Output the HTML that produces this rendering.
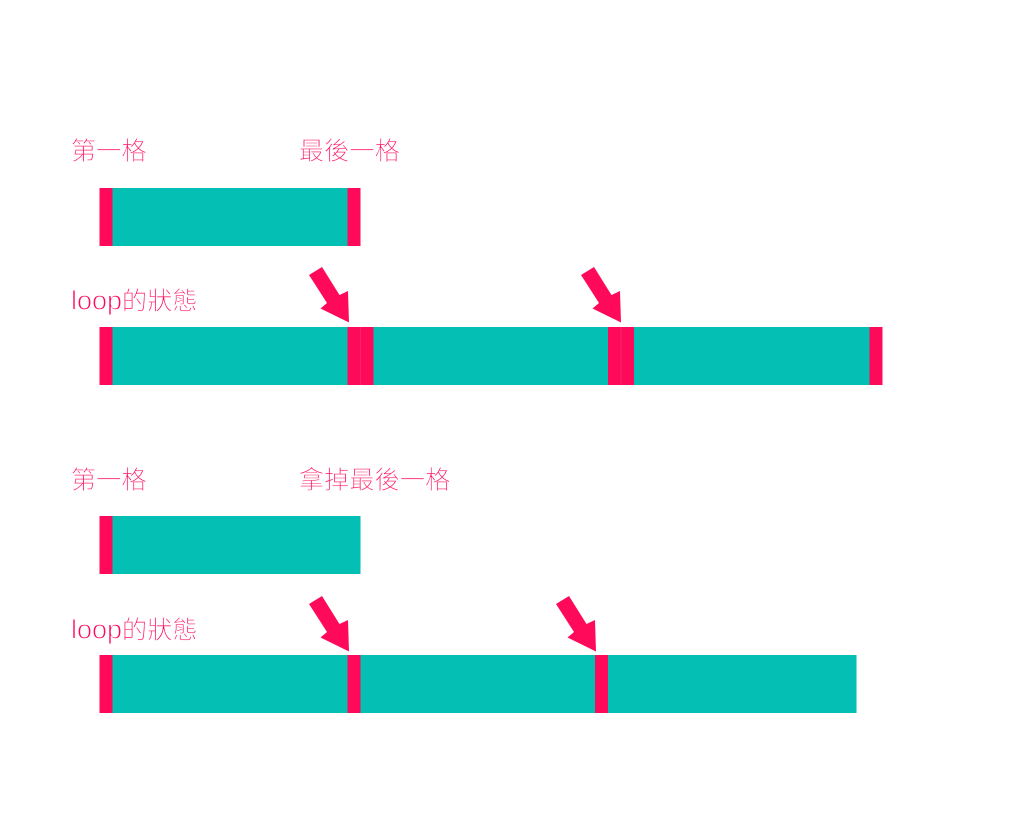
<!DOCTYPE html>
<html>
<head>
<meta charset="utf-8">
<style>
html,body{margin:0;padding:0;background:#fff;width:1024px;height:814px;overflow:hidden}
svg{display:block}
text{font-family:"Liberation Sans","Noto Sans CJK TC",sans-serif;font-size:25px;font-weight:300;fill:#ff0a5a;stroke:#fff;stroke-width:.4px;letter-spacing:.25px}
tspan.l{font-size:27px;stroke-width:.9px;letter-spacing:0}
</style>
</head>
<body>
<svg width="1024" height="814" viewBox="0 0 1024 814" xmlns="http://www.w3.org/2000/svg">
<rect width="1024" height="814" fill="#fff"/>

<text x="71" y="159.5">第一格</text>
<text x="299" y="159.5">最後一格</text>

<rect x="99.5" y="188" width="261" height="58" fill="#03bfb4"/>
<rect x="99.5" y="188" width="13" height="58" fill="#ff0a5a"/>
<rect x="347.5" y="188" width="13" height="58" fill="#ff0a5a"/>

<text x="71" y="309.5"><tspan class="l">loop</tspan><tspan x="122">的狀態</tspan></text>

<rect x="99.5" y="327" width="783" height="58" fill="#03bfb4"/>
<rect x="99.5" y="327" width="13" height="58" fill="#ff0a5a"/>
<rect x="347.5" y="327" width="26" height="58" fill="#ff0a5a"/>
<rect x="360" y="327" width="1" height="58" fill="#f02a68"/>
<rect x="608" y="327" width="26" height="58" fill="#ff0a5a"/>
<rect x="620.5" y="327" width="1" height="58" fill="#f02a68"/>
<rect x="869.5" y="327" width="13" height="58" fill="#ff0a5a"/>

<polygon points="309,275 322,267 339.5,295 348,291 349,322.5 320.5,308.5 327,303" fill="#ff0a5a"/>
<polygon points="581,275 594,267 611.5,295 620,291 621,322.5 592.5,308.5 599,303" fill="#ff0a5a"/>

<text x="71" y="488.5">第一格</text>
<text x="299" y="488.5">拿掉最後一格</text>

<rect x="99.5" y="516" width="261" height="58" fill="#03bfb4"/>
<rect x="99.5" y="516" width="13" height="58" fill="#ff0a5a"/>

<text x="71" y="638.5"><tspan class="l">loop</tspan><tspan x="122">的狀態</tspan></text>

<rect x="99.5" y="655" width="757" height="58" fill="#03bfb4"/>
<rect x="99.5" y="655" width="13" height="58" fill="#ff0a5a"/>
<rect x="347.5" y="655" width="13" height="58" fill="#ff0a5a"/>
<rect x="595" y="655" width="13" height="58" fill="#ff0a5a"/>

<polygon points="309,604 322,596 339.5,624 348,620 349,651.5 320.5,637.5 327,632" fill="#ff0a5a"/>
<polygon points="556,604 569,596 586.5,624 595,620 596,651.5 567.5,637.5 574,632" fill="#ff0a5a"/>
</svg>
</body>
</html>
